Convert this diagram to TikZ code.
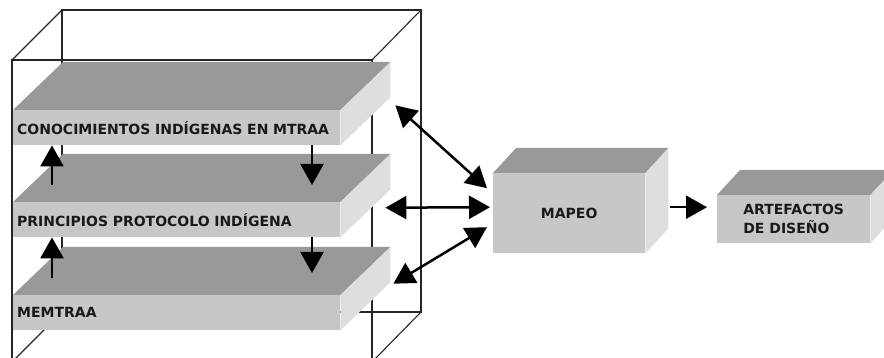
\documentclass[tikz,border=0pt]{standalone}
\usepackage{fontspec}
\setmainfont{DejaVu Sans}
\usetikzlibrary{arrows.meta,calc}
\definecolor{ctop}{gray}{0.6}
\definecolor{cfront}{gray}{0.78}
\definecolor{cside}{gray}{0.87}
\tikzset{
  wire/.style={line width=1.1pt, black!85},
  layer/.style={fill=cfront, anchor=north west, inner xsep=4pt,
    minimum width=327pt, minimum height=35pt, text width=319pt, align=left,
    font=\bfseries\fontsize{14}{19}\selectfont, text=black!90},
  block/.style={fill=cfront, anchor=north west,
    font=\bfseries\fontsize{14}{19}\selectfont, text=black!90},
  flow/.style={line width=2.5pt, -{Triangle[width=23pt,length=21pt]}},
  both/.style={line width=2.5pt, {Triangle[width=23pt,length=21pt]}-{Triangle[width=23pt,length=21pt]}}
}
\begin{document}
\begin{tikzpicture}[x=1pt,y=-1pt]
\useasboundingbox (0,0) rectangle (884,358);

% wire frame
\draw[wire] (62,10) rectangle (421,312);
\draw[wire] (12,60) rectangle (372,362);
\draw[wire] (12,60) -- (62,10) (372,60) -- (421,10)
  (12,362) -- (62,312) (372,362) -- (421,312);

% layers and blocks
\node[layer] (conoc) at (13,110) {CONOCIMIENTOS INDÍGENAS EN MTRAA};
\node[layer] (princ) at (13,202) {PRINCIPIOS PROTOCOLO INDÍGENA};
\node[layer] (memt) at (13,295) {MEMTRAA};
\node[block, minimum width=152pt, minimum height=80pt] (mapeo) at (493,173) {MAPEO};
\node[block, minimum width=153pt, minimum height=48pt, align=left] (artef) at (717,195) {ARTEFACTOS\\DE DISEÑO};

\foreach \n/\dx/\dy in {conoc/50/48, princ/50/48, memt/50/48, mapeo/23/25, artef/23/25} {
  \fill[ctop] (\n.north west) -- ++(\dx,-\dy) -- ($(\n.north east)+(\dx,-\dy)$) -- (\n.north east) -- cycle;
  \fill[cside] (\n.north east) -- ++(\dx,-\dy) -- ($(\n.south east)+(\dx,-\dy)$) -- (\n.south east) -- cycle;
}

% arrows between layers
\draw[flow] ($(princ.north west)+(39,-17)$) -- ($(conoc.south west)+(39,0)$);
\draw[flow] ($(memt.north west)+(39,-17)$) -- ($(princ.south west)+(39,0)$);
\draw[flow] ($(conoc.south west)+(299,0)$) -- ($(princ.north west)+(299,-17)$);
\draw[flow] ($(princ.south west)+(299,0)$) -- ($(memt.north west)+(299,-22)$);

% arrows to mapeo
\draw[both] ($(conoc.south east)+(55,-40)$) -- ($(mapeo.west)+(-6,-25)$);
\draw[both] ($(princ.east)+(45,-12)$) -- ($(mapeo.west)+(-3,-6)$);
\draw[both] ($(memt.east)+(53,-29)$) -- ($(mapeo.west)+(-6,14)$);
\draw[flow] ($(mapeo.east)+(25,-6)$) -- ($(artef.west)+(-10,-12)$);
\end{tikzpicture}
\end{document}
